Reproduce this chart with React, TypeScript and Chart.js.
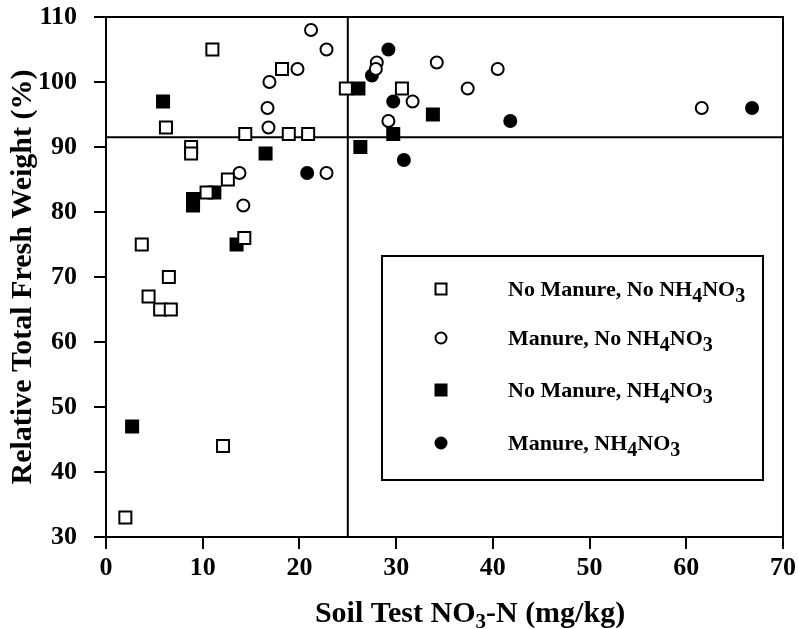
import React, { useEffect, useRef } from 'react';
import { Chart, registerables } from 'chart.js';

Chart.register(...registerables);

const FONT = "'Liberation Serif', 'Times New Roman', Times, serif";

// Axis settings
const xTicks = [0, 10, 20, 30, 40, 50, 60, 70];
const yTicks = [30, 40, 50, 60, 70, 80, 90, 100, 110];
const xTitle = 'Soil Test NO3-N (mg/kg)';
const yTitle = 'Relative Total Fresh Weight (%)';

// Critical levels (reference lines)
const criticalNO3 = 25;
const criticalRTFW = 91.5;

// Series labels
const seriesLabels = [
  'No Manure, No NH4NO3',
  'Manure, No NH4NO3',
  'No Manure, NH4NO3',
  'Manure, NH4NO3',
];

// No Manure, No NH4NO3 (open squares)
const noManNoN_x = [11.0, 18.2, 24.8, 30.6, 6.2, 14.4, 18.9, 20.9, 8.8, 8.8, 12.6, 10.4, 3.7, 14.3, 6.5, 4.4, 5.6, 6.7, 12.1, 2.0];
const noManNoN_y = [105, 102, 99, 99, 93, 92, 92, 92, 90, 89, 85, 83, 75, 76, 70, 67, 65, 65, 44, 33];

// Manure, No NH4NO3 (open circles)
const manNoN_x = [21.2, 22.8, 19.8, 16.9, 16.7, 16.8, 22.8, 13.8, 14.2, 28.0, 27.9, 34.2, 40.5, 37.4, 31.7, 29.2, 61.6];
const manNoN_y = [108, 105, 102, 100, 96, 93, 86, 86, 81, 103, 102, 103, 102, 99, 97, 94, 96];

// No Manure, NH4NO3 (filled squares)
const noManN_x = [5.9, 16.5, 26.1, 26.3, 11.2, 9.0, 9.0, 13.5, 2.7, 33.8, 29.7];
const noManN_y = [97, 89, 99, 90, 83, 82, 81, 75, 47, 95, 92];

// Manure, NH4NO3 (filled circles)
const manN_x = [20.8, 29.2, 27.5, 29.7, 41.8, 30.8, 66.8];
const manN_y = [86, 105, 101, 97, 94, 88, 96];

const seriesStyles = [
  { style: 'rect', fill: '#ffffff' },
  { style: 'circle', fill: '#ffffff' },
  { style: 'rect', fill: '#000000' },
  { style: 'circle', fill: '#000000' },
];

function toPoints(xs: number[], ys: number[]) {
  return xs.map((x, i) => ({ x, y: ys[i] }));
}

type Part = { t: string; sub: boolean };
function splitChem(text: string): Part[] {
  const parts: Part[] = [];
  for (let i = 0; i < text.length; i++) {
    const c = text[i];
    const sub = /\d/.test(c) && i > 0 && /[A-Z]/.test(text[i - 1]);
    const last = parts[parts.length - 1];
    if (last && last.sub === sub) last.t += c;
    else parts.push({ t: c, sub });
  }
  return parts;
}

function drawChem(
  ctx: CanvasRenderingContext2D,
  text: string,
  x: number,
  y: number,
  size: number,
  subSize: number,
  shift: number,
  align: 'left' | 'center'
) {
  const parts = splitChem(text);
  const mainFont = `bold ${size}px ${FONT}`;
  const subFont = `bold ${subSize}px ${FONT}`;
  let total = 0;
  for (const p of parts) {
    ctx.font = p.sub ? subFont : mainFont;
    total += ctx.measureText(p.t).width;
  }
  let cx = align === 'center' ? x - total / 2 : x;
  ctx.textAlign = 'left';
  for (const p of parts) {
    ctx.font = p.sub ? subFont : mainFont;
    ctx.fillText(p.t, cx, p.sub ? y + shift : y);
    cx += ctx.measureText(p.t).width;
  }
}

const annotationPlugin = {
  id: 'annotations',
  beforeDraw(chart: any) {
    const { ctx } = chart;
    ctx.save();
    ctx.fillStyle = '#ffffff';
    ctx.fillRect(0, 0, chart.width, chart.height);
    ctx.restore();
  },
  beforeDatasetsDraw(chart: any) {
    const { ctx, chartArea } = chart;
    const { left, top, right, bottom } = chartArea;
    ctx.save();
    ctx.strokeStyle = '#000';
    ctx.lineWidth = 2;
    ctx.strokeRect(left, top, right - left, bottom - top);
    ctx.restore();
  },
  afterDraw(chart: any) {
    const { ctx } = chart;
    ctx.save();
    ctx.fillStyle = '#000';
    ctx.strokeStyle = '#000';
    ctx.textBaseline = 'alphabetic';

    // x-axis title with subscript
    drawChem(ctx, xTitle, 470, 622, 30, 21, 6, 'center');

    // legend box
    const bx = 382, by = 256, bw = 381, bh = 224;
    ctx.fillStyle = '#fff';
    ctx.fillRect(bx, by, bw, bh);
    ctx.lineWidth = 2;
    ctx.strokeRect(bx, by, bw, bh);
    const rows = [289, 338, 390, 443];
    seriesLabels.forEach((label, i) => {
      const y = rows[i];
      const mx = 441;
      const st = seriesStyles[i];
      ctx.lineWidth = 2;
      ctx.strokeStyle = '#000';
      ctx.fillStyle = st.fill;
      ctx.beginPath();
      if (st.style === 'rect') {
        ctx.rect(mx - 5.5, y - 5.5, 11, 11);
      } else {
        ctx.arc(mx, y, 5.5, 0, Math.PI * 2);
      }
      ctx.fill();
      ctx.stroke();
      ctx.fillStyle = '#000';
      drawChem(ctx, label, 508, y + 7, 22, 20, 6, 'left');
    });
    ctx.restore();
  },
};

export default function App() {
  const canvasRef = useRef<HTMLCanvasElement | null>(null);

  useEffect(() => {
    document.body.style.margin = '0';
    const canvas = canvasRef.current;
    if (!canvas) return;

    const seriesData = [
      toPoints(noManNoN_x, noManNoN_y),
      toPoints(manNoN_x, manNoN_y),
      toPoints(noManN_x, noManN_y),
      toPoints(manN_x, manN_y),
    ];

    const pointDatasets = seriesData.map((data, i) => ({
      type: 'scatter' as const,
      label: seriesLabels[i],
      data,
      pointStyle: seriesStyles[i].style,
      pointRadius: seriesStyles[i].style === 'rect' ? 8.5 : 6,
      pointBackgroundColor: seriesStyles[i].fill,
      pointBorderColor: '#000',
      pointBorderWidth: 2,
      showLine: false,
      order: 1,
    }));

    const refDatasets = [
      {
        type: 'line' as const,
        label: 'critical RTFW',
        data: [
          { x: xTicks[0], y: criticalRTFW },
          { x: xTicks[xTicks.length - 1], y: criticalRTFW },
        ],
        borderColor: '#000',
        borderWidth: 2,
        pointRadius: 0,
        fill: false,
        order: 10,
      },
      {
        type: 'line' as const,
        label: 'critical NO3',
        data: [
          { x: criticalNO3, y: yTicks[0] },
          { x: criticalNO3, y: yTicks[yTicks.length - 1] },
        ],
        borderColor: '#000',
        borderWidth: 2,
        pointRadius: 0,
        fill: false,
        order: 10,
      },
    ];

    const chart = new Chart(canvas, {
      type: 'scatter',
      data: { datasets: [...pointDatasets, ...refDatasets] as any },
      options: {
        animation: false,
        responsive: false,
        devicePixelRatio: 1,
        layout: { padding: { top: 17, right: 15, left: 0, bottom: 0 } },
        plugins: {
          legend: { display: false },
          tooltip: { enabled: false },
        },
        scales: {
          x: {
            type: 'linear',
            min: xTicks[0],
            max: xTicks[xTicks.length - 1],
            afterBuildTicks: (s: any) => {
              s.ticks = xTicks.map((v) => ({ value: v }));
            },
            ticks: {
              color: '#000',
              font: { family: FONT, size: 26, weight: 'bold' },
              padding: 4,
              maxRotation: 0,
            },
            grid: {
              drawOnChartArea: false,
              drawTicks: true,
              tickLength: 12,
              color: '#000',
              lineWidth: 2,
            },
            border: { display: true, color: '#000', width: 2 },
            afterFit: (s: any) => {
              s.height = 92;
              s.paddingLeft = 0;
              s.paddingRight = 0;
            },
          },
          y: {
            type: 'linear',
            min: yTicks[0],
            max: yTicks[yTicks.length - 1],
            afterBuildTicks: (s: any) => {
              s.ticks = yTicks.map((v) => ({ value: v }));
            },
            ticks: {
              color: '#000',
              font: { family: FONT, size: 26, weight: 'bold' },
              padding: 17,
            },
            grid: {
              drawOnChartArea: false,
              drawTicks: true,
              tickLength: 12,
              color: '#000',
              lineWidth: 2,
            },
            border: { display: true, color: '#000', width: 2 },
            title: {
              display: true,
              text: yTitle,
              color: '#000',
              font: { family: FONT, size: 30, weight: 'bold' },
              padding: { top: 5, bottom: 0 },
            },
            afterFit: (s: any) => {
              s.width = 106;
              s.paddingTop = 0;
              s.paddingBottom = 0;
            },
          },
        },
      },
      plugins: [annotationPlugin],
    } as any);

    return () => {
      chart.destroy();
    };
  }, []);

  return (
    <div style={{ position: 'absolute', left: 0, top: 0, width: 798, height: 629 }}>
      <canvas ref={canvasRef} width={798} height={629} style={{ width: 798, height: 629, display: 'block' }} />
    </div>
  );
}
